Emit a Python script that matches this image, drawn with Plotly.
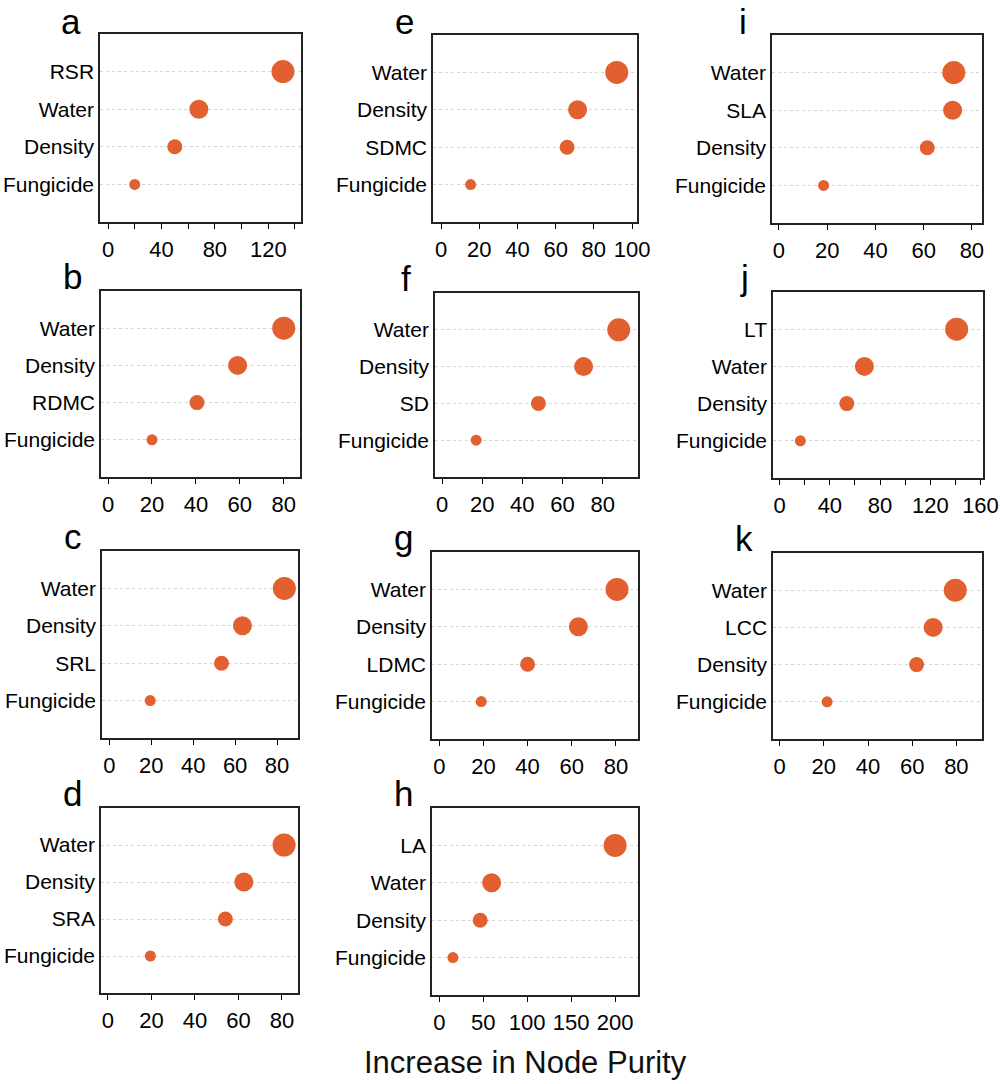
import plotly.graph_objects as go

# variable importance (increase in node purity), rows listed top to bottom
labels_a = ["RSR", "Water", "Density", "Fungicide"]
values_a = [131, 68, 50, 20]
labels_b = ["Water", "Density", "RDMC", "Fungicide"]
values_b = [80, 59, 40.5, 20]
labels_c = ["Water", "Density", "SRL", "Fungicide"]
values_c = [83.5, 63.5, 53.5, 19.5]
labels_d = ["Water", "Density", "SRA", "Fungicide"]
values_d = [81, 62.5, 54, 19.5]
labels_e = ["Water", "Density", "SDMC", "Fungicide"]
values_e = [92, 71.5, 66, 15.5]
labels_f = ["Water", "Density", "SD", "Fungicide"]
values_f = [88, 70.5, 48, 17]
labels_g = ["Water", "Density", "LDMC", "Fungicide"]
values_g = [80.5, 63, 40, 19]
labels_h = ["LA", "Water", "Density", "Fungicide"]
values_h = [200, 59.5, 46.5, 15.5]
labels_i = ["Water", "SLA", "Density", "Fungicide"]
values_i = [72.5, 72, 61.5, 18.5]
labels_j = ["LT", "Water", "Density", "Fungicide"]
values_j = [141, 67.5, 53.5, 16.5]
labels_k = ["Water", "LCC", "Density", "Fungicide"]
values_k = [79.5, 69.5, 62, 21.5]

x_title = "Increase in Node Purity"

W, H = 1000, 1084
FONT = "Liberation Sans, Arial, sans-serif"
DOT_COLOR = "#E2602F"
DOT_SIZES = [11, 15, 19, 23]  # bottom row -> top row

# letter, labels, values, box (px: x0, x1, y0, y1), x range, dtick, minor dtick
panels = [
    ("a", labels_a, values_a, (100, 301, 34, 222), [-6, 144.5], 40, 20),
    ("b", labels_b, values_b, (101, 300, 291, 477), [-3.2, 87.4], 20, None),
    ("c", labels_c, values_c, (102, 298, 551, 738), [-3.5, 90], 20, None),
    ("d", labels_d, values_d, (101, 298, 808, 993), [-3.2, 87.4], 20, None),
    ("e", labels_e, values_e, (433, 637, 35, 222), [-4.2, 102.6], 20, None),
    ("f", labels_f, values_f, (435, 638, 293, 477), [-3.5, 97.6], 20, None),
    ("g", labels_g, values_g, (432, 638, 552, 739), [-3.3, 90], 20, None),
    ("h", labels_h, values_h, (432, 638, 808, 995), [-8.3, 226], 50, None),
    ("i", labels_i, values_i, (772, 982, 35, 223), [-2.9, 84.2], 20, None),
    ("j", labels_j, values_j, (773, 983, 292, 478), [-5.3, 162], 40, 20),
    ("k", labels_k, values_k, (773, 982, 553, 739), [-3, 91.6], 20, None),
]

fig = go.Figure()
layout = {}
annotations = []

for n, (letter, labels, values, box, xr, dt, minor_dt) in enumerate(panels, start=1):
    x0, x1, y0, y1 = box
    suffix = "" if n == 1 else str(n)
    rows = list(range(1, len(labels) + 1))

    fig.add_trace(go.Scatter(
        x=values[::-1], y=rows, mode="markers",
        marker=dict(size=DOT_SIZES, color=DOT_COLOR, opacity=1,
                    line=dict(width=0)),
        xaxis="x" + suffix, yaxis="y" + suffix, showlegend=False,
        hoverinfo="x+y",
    ))

    xaxis = dict(
        domain=[x0 / W, x1 / W], anchor="y" + suffix, range=xr,
        tick0=0, dtick=dt, ticks="outside", ticklen=5, tickwidth=1.2,
        tickcolor="black", showgrid=False, zeroline=False,
        showline=True, linecolor="#222", linewidth=1.5, mirror=True,
        ticklabelstandoff=2, automargin=False,
        tickfont=dict(family=FONT, size=22, color="black"),
    )
    if minor_dt:
        xaxis["minor"] = dict(dtick=minor_dt, tick0=0, ticks="outside",
                              ticklen=5, tickwidth=1.2, tickcolor="black",
                              showgrid=False)
    layout["xaxis" + suffix] = xaxis

    layout["yaxis" + suffix] = dict(
        domain=[1 - y1 / H, 1 - y0 / H], anchor="x" + suffix, range=[0, 5],
        tickvals=rows, ticktext=labels[::-1], ticks="",
        showgrid=True, gridcolor="#d4d4d4", griddash="dot", gridwidth=1,
        zeroline=False, showline=True, linecolor="#222", linewidth=1.5,
        mirror=True, ticklabelstandoff=0, automargin=False,
        tickfont=dict(family=FONT, size=21, color="black"),
    )

    annotations.append(dict(
        text=letter, x=(x0 - 29) / W, y=min(1.0, 1 - (y0 - 36) / H),
        xref="paper", yref="paper", xanchor="center", yanchor="top",
        showarrow=False, font=dict(family=FONT, size=35, color="black"),
    ))

annotations.append(dict(
    text=x_title, x=525 / W, y=0, xref="paper", yref="paper",
    xanchor="center", yanchor="bottom", yshift=2, showarrow=False,
    font=dict(family=FONT, size=31, color="#111"),
))

fig.update_layout(
    width=W, height=H,
    margin=dict(l=0, r=0, t=0, b=0),
    paper_bgcolor="white", plot_bgcolor="white",
    annotations=annotations,
    **layout,
)

# drop the browser's default 8px body margin so the figure fills the window
fig.write_html("out.html", config={"displayModeBar": False},
               post_script="document.body.style.margin = '0';")
